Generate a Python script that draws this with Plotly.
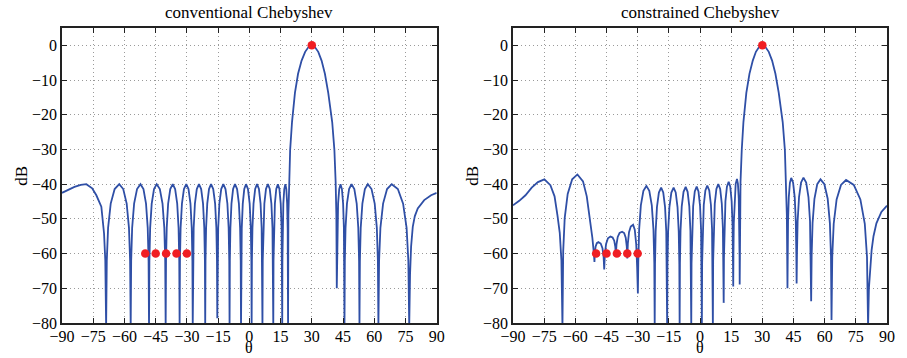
import plotly.graph_objects as go

# ---------------- data ----------------
# conventional Chebyshev pattern (theta in degrees, level in dB)
theta_conv = [
    -90, -87, -84, -81, -78.3, -75.5, -73.5, -71.1, -69.8, -69.2, -68.8,
    -68.49, -67.86, -66.60, -64.71, -62.5, -60.58, -58.93, -57.83, -57.28, -57.0,
    -56.77, -56.30, -55.36, -53.95, -52.3, -50.87, -49.64, -48.82, -48.41, -48.2,
    -48.02, -47.65, -46.91, -45.80, -44.5, -43.0, -41.71, -40.85, -40.42, -40.2,
    -40.03, -39.69, -39.01, -37.99, -36.8, -35.65, -34.66, -34.0, -33.67, -33.5,
    -33.34, -33.02, -32.38, -31.42, -30.3, -29.22, -28.29, -27.67, -27.36, -27.2,
    -27.05, -26.75, -26.15, -25.25, -24.2, -23.15, -22.25, -21.65, -21.35, -21.2,
    -21.06, -20.78, -20.22, -19.38, -18.4, -17.35, -16.45, -15.85, -15.55, -15.4,
    -15.26, -14.97, -14.39, -13.52, -12.5, -11.45, -10.55, -9.95, -9.65, -9.5,
    -9.37, -9.11, -8.59, -7.81, -6.9, -5.89, -5.02, -4.44, -4.15, -4.0,
    -3.88, -3.64, -3.16, -2.44, -1.6, -0.66, 0.16, 0.70, 0.97, 1.1,
    1.23, 1.49, 2.01, 2.79, 3.7, 4.61, 5.39, 5.91, 6.17, 6.3,
    6.43, 6.69, 7.21, 7.99, 8.9, 9.81, 10.59, 11.11, 11.37, 11.5,
    11.61, 11.83, 12.27, 12.93, 13.7, 14.44, 15.07, 15.49, 15.70, 15.8,
    15.88, 16.03, 16.33, 16.78, 17.3, 17.76, 18.15, 18.41, 18.54, 18.6,
    18.75, 19.0, 19.6, 20.5, 21.9, 23.4, 25.1, 26.8, 28.4, 30,
    31.5, 33.1, 34.7, 36.3, 37.9, 39.8, 40.85, 41.45, 41.8, 42.0,
    42.09, 42.27, 42.63, 43.17, 43.8, 44.47, 45.04, 45.42, 45.61, 45.7,
    45.87, 46.21, 46.89, 47.91, 49.1, 50.43, 51.57, 52.33, 52.71, 52.9,
    53.1, 53.5, 54.3, 55.5, 56.9, 58.69, 60.22, 61.24, 61.75, 62.0,
    62.32, 62.96, 64.24, 66.16, 68.4, 71.34, 73.86, 75.54, 76.38, 76.8,
    77.2, 77.7, 78.5, 79.5, 80.9, 84.0, 87.3, 90,
]
db_conv = [
    -42.5, -41.6, -40.8, -40.2, -40.0, -41.2, -43.2, -46.5, -54.2, -62, -81,
    -62.1, -52.6, -45.6, -41.4, -40, -41.4, -45.6, -52.6, -62.1, -81,
    -62.1, -52.6, -45.6, -41.4, -40, -41.4, -45.6, -52.6, -62.1, -81,
    -62.1, -52.6, -45.6, -41.4, -40, -41.4, -45.6, -52.6, -62.1, -81,
    -62.1, -52.6, -45.6, -41.4, -40, -41.4, -45.6, -52.6, -62.1, -81,
    -62.1, -52.6, -45.6, -41.4, -40, -41.4, -45.6, -52.6, -62.1, -81,
    -62.1, -52.6, -45.6, -41.4, -40, -41.4, -45.6, -52.6, -62.1, -81,
    -62.1, -52.6, -45.6, -41.4, -40, -41.4, -45.6, -52.6, -62.1, -78.6,
    -62.1, -52.6, -45.6, -41.4, -40, -41.4, -45.6, -52.6, -62.1, -81,
    -62.1, -52.6, -45.6, -41.4, -40, -41.4, -45.6, -52.6, -62.1, -81,
    -62.1, -52.6, -45.6, -41.4, -40, -41.4, -45.6, -52.6, -62.1, -81,
    -62.1, -52.6, -45.6, -41.4, -40, -41.4, -45.6, -52.6, -62.1, -81,
    -62.1, -52.6, -45.6, -41.4, -40, -41.4, -45.6, -52.6, -62.1, -81,
    -62.1, -52.6, -45.6, -41.4, -40, -41.4, -45.6, -52.6, -62.1, -81,
    -62.1, -52.6, -45.6, -41.4, -40, -41.4, -45.6, -52.6, -62.1, -81,
    -49, -39.4, -30.1, -22.1, -13.7, -8.2, -4.4, -1.86, -0.5, 0,
    -0.5, -1.86, -4.4, -8.2, -13.7, -22.1, -30.1, -39.4, -49, -70,
    -62.1, -52.6, -45.6, -41.4, -40, -41.4, -45.6, -52.6, -62.1, -81,
    -62.1, -52.6, -45.6, -41.4, -40, -41.4, -45.6, -52.6, -62.1, -81,
    -62.1, -52.6, -45.6, -41.4, -40, -41.4, -45.6, -52.6, -62.1, -81,
    -62.1, -52.6, -45.6, -41.4, -40, -41.4, -45.6, -52.6, -62.1, -81,
    -66, -58, -52.3, -49.2, -47, -44.6, -43.2, -42.5,
]

# constrained Chebyshev pattern
theta_cons = [
    -90, -87, -84, -81, -78, -74.9, -72.0, -70.0, -68.6, -67.5, -66.7, -66.2,
    -65.84, -65.12, -63.68, -61.52, -59.0,
    -56.3, -54.5, -53.0, -51.8, -51.1, -50.8,
    -50.61, -50.23, -49.66, -48.9, -47.78, -46.94, -46.38, -46.1,
    -45.8, -45.2, -44.3, -43.1, -42.06, -41.28, -40.76, -40.5,
    -40.2, -39.6, -38.7, -37.5, -36.5, -35.75, -35.25, -35.0,
    -34.72, -34.16, -33.32, -32.2, -31.4, -30.7, -30.25, -29.9,
    -29.7, -29.29, -28.47, -27.24, -25.8, -24.4, -23.2, -22.4, -22.0, -21.8,
    -21.65, -21.34, -20.72, -19.79, -18.7, -17.69, -16.82, -16.24, -15.95, -15.8,
    -15.65, -15.34, -14.72, -13.79, -12.7, -11.69, -10.82, -10.24, -9.95, -9.8,
    -9.66, -9.37, -8.79, -7.92, -6.9, -5.96, -5.15, -4.61, -4.34, -4.2,
    -4.07, -3.81, -3.29, -2.51, -1.6, -0.73, 0.03, 0.53, 0.78, 0.9,
    1.03, 1.29, 1.81, 2.59, 3.5, 4.45, 5.26, 5.80, 6.07, 6.2,
    6.33, 6.59, 7.11, 7.89, 8.8, 9.71, 10.49, 11.01, 11.27, 11.4,
    11.52, 11.76, 12.24, 12.96, 13.8, 14.57, 15.23, 15.67, 15.89, 16.0,
    16.09, 16.27, 16.63, 17.17, 17.8, 18.26, 18.65, 18.91, 19.04, 19.1,
    19.25, 19.5, 20.1, 20.9, 22.3, 23.8, 25.4, 26.9, 28.4, 30,
    31.5, 33.1, 34.7, 36.3, 37.9, 39.8, 40.85, 41.45, 41.8, 42.1,
    42.19, 42.37, 42.73, 43.27, 43.9, 44.81, 45.59, 46.11, 46.37, 46.5,
    46.67, 46.99, 47.66, 48.65, 49.8, 51.1, 52.2, 52.95, 53.32, 53.5,
    53.73, 54.18, 55.08, 56.43, 58.0, 59.86, 61.45, 62.51, 63.04, 63.3,
    63.65, 64.35, 65.75, 67.85, 70.3, 74.01, 77.19, 79.31, 80.37, 80.9,
    81.3, 82.0, 82.6, 83.5, 84.9, 87.3, 90,
]
db_cons = [
    -46.1, -44.8, -43.2, -41.0, -39.4, -38.6, -40.3, -43.5, -49, -54, -62, -81,
    -59.3, -49.8, -42.8, -38.6, -37.2,
    -39.2, -43.5, -49.5, -55.5, -59.8, -62.4,
    -59.8, -57.95, -56.99, -56.7, -57.1, -58.44, -61.05, -64.6,
    -60.3, -57.2, -55.6, -55.1, -55.37, -56.29, -58.07, -60.5,
    -57.44, -55.2, -54.04, -53.7, -54.09, -55.39, -57.94, -61.4,
    -57.04, -53.83, -52.19, -51.7, -53.1, -57.3, -64.0, -71.5,
    -62.6, -53.1, -46.1, -41.9, -40.5, -41.9, -46.1, -53.1, -62.6, -81,
    -63.1, -53.6, -46.6, -42.4, -41.0, -42.4, -46.6, -53.6, -63.1, -81,
    -63.1, -53.6, -46.6, -42.4, -41.0, -42.4, -46.6, -53.6, -63.1, -81,
    -62.9, -53.4, -46.4, -42.2, -40.8, -42.2, -46.4, -53.4, -62.9, -81,
    -62.8, -53.3, -46.3, -42.1, -40.7, -42.1, -46.3, -53.3, -62.8, -81,
    -62.5, -53.0, -46.0, -41.8, -40.4, -41.8, -46.0, -53.0, -62.5, -81,
    -62.1, -52.6, -45.6, -41.4, -40.0, -41.4, -45.6, -52.6, -62.1, -74.2,
    -61.4, -51.9, -44.9, -40.7, -39.3, -40.7, -44.9, -51.9, -61.4, -69.5,
    -60.6, -51.1, -44.1, -39.9, -38.5, -39.9, -44.1, -51.1, -60.6, -68.9,
    -49, -39.4, -30.1, -22.1, -13.7, -8.2, -4.4, -1.86, -0.5, 0,
    -0.5, -1.86, -4.4, -8.2, -13.7, -22.1, -30.1, -39.4, -49, -70,
    -60.3, -50.8, -43.8, -39.6, -38.2, -39.6, -43.8, -50.8, -60.3, -68.6,
    -60.2, -50.7, -43.7, -39.5, -38.1, -39.5, -43.7, -50.7, -60.2, -73.7,
    -60.7, -51.2, -44.2, -40.0, -38.6, -40.0, -44.2, -51.2, -60.7, -79.1,
    -60.9, -51.4, -44.4, -40.2, -38.8, -40.2, -44.4, -51.4, -60.9, -81,
    -70, -63, -59, -55, -51.3, -48, -46.2,
]

# red markers: look direction and constrained directions
look_theta = [30]
look_db = [0]
null_theta = [-50, -45, -40, -35, -30]
null_db = [-60, -60, -60, -60, -60]

x_ticks = [-90, -75, -60, -45, -30, -15, 0, 15, 30, 45, 60, 75, 90]
y_ticks = [0, -10, -20, -30, -40, -50, -60, -70, -80]
titles = ["conventional Chebyshev", "constrained Chebyshev"]

assert len(theta_conv) == len(db_conv)
assert len(theta_cons) == len(db_cons)

# ---------------- figure ----------------
W, H = 907, 358
LINE = "#2f4fa6"
RED = "#f01e23"
FONT = "Liberation Serif"

# plot frame in pixels
L0, R1 = 62.3, 887.3          # left edge of left panel, right edge of right panel
T0, B0 = 27.7, 323.0          # top and bottom of both panels
PW, PH = R1 - L0, B0 - T0
panels_px = [(62.3, 437.0), (513.3, 887.3)]


def px_x(p):
    return (p - L0) / PW


def px_y(p):
    return (B0 - p) / PH


fig = go.Figure()
curves = [(theta_conv, db_conv), (theta_cons, db_cons)]
for i, (tx, ty) in enumerate(curves):
    xa = "x" if i == 0 else "x2"
    ya = "y" if i == 0 else "y2"
    fig.add_trace(go.Scatter(x=tx, y=ty, mode="lines", xaxis=xa, yaxis=ya,
                             line=dict(color=LINE, width=1.8), showlegend=False,
                             hoverinfo="skip"))
    fig.add_trace(go.Scatter(x=look_theta + null_theta, y=look_db + null_db,
                             mode="markers", xaxis=xa, yaxis=ya,
                             marker=dict(color=RED, size=8.5, line=dict(width=0)),
                             showlegend=False, cliponaxis=False))

axis_common = dict(
    showgrid=True, gridcolor="#9a9a9a", griddash="1px,3px", gridwidth=1,
    ticks="inside", ticklen=5, tickcolor="#222", tickwidth=1,
    showline=True, linecolor="#222", linewidth=1.6, mirror="allticks",
    zeroline=False, tickfont=dict(family=FONT, size=16, color="black"),
    fixedrange=True, automargin=False,
)

layout = dict(
    width=W, height=H,
    margin=dict(l=L0, r=W - R1, t=T0, b=H - B0, pad=0),
    paper_bgcolor="white", plot_bgcolor="white",
    showlegend=False,
)
for i in range(2):
    sx = "" if i == 0 else "2"
    layout["xaxis" + sx] = dict(axis_common, range=[-90, 90], tickvals=x_ticks,
                                domain=[px_x(panels_px[i][0]), px_x(panels_px[i][1])],
                                anchor="y" + sx, ticklabelstandoff=-2)
    layout["yaxis" + sx] = dict(axis_common, range=[-80, 5], tickvals=y_ticks,
                                domain=[0, 1], anchor="x" + sx)
fig.update_layout(**layout)

ann = []
centers = [(p[0] + p[1]) / 2 for p in panels_px]
ylab_x = [21, 472]
for i in range(2):
    ann.append(dict(text=titles[i], x=px_x(centers[i]), y=px_y(12), xref="paper", yref="paper",
                    showarrow=False, font=dict(family=FONT, size=17, color="black"),
                    xanchor="center", yanchor="middle"))
    ann.append(dict(text="θ", x=px_x(centers[i]), y=px_y(357.5), xref="paper", yref="paper",
                    showarrow=False, font=dict(family=FONT, size=16, color="black"),
                    xanchor="center", yanchor="bottom", borderpad=0))
    ann.append(dict(text="dB", x=px_x(ylab_x[i]), y=px_y(176), xref="paper", yref="paper",
                    showarrow=False, textangle=-90, font=dict(family=FONT, size=17, color="black"),
                    xanchor="center", yanchor="middle"))
fig.update_layout(annotations=ann)

fig.write_html("out.html")
